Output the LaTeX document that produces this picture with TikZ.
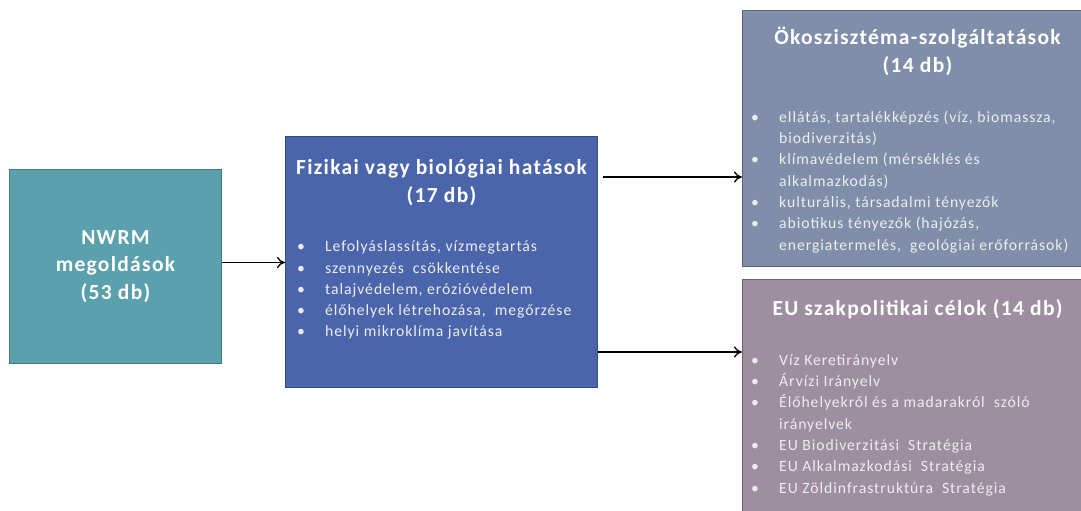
\documentclass[tikz,border=0pt]{standalone}
\usepackage{fontspec}
\setmainfont{Carlito}[LetterSpace=6]
\usetikzlibrary{arrows.meta,positioning}
\definecolor{nwrmc}{RGB}{91,160,173}
\definecolor{fizc}{RGB}{74,101,172}
\definecolor{okoc}{RGB}{128,143,169}
\definecolor{euc}{RGB}{157,143,160}
\newcommand\itm{\makebox[28pt][l]{\textbullet}}
\newcommand\cnt{\hspace*{28pt}}
\tikzset{
  box/.style={draw, line width=1pt, inner sep=0pt, anchor=north west},
  ttl/.style={text=white, align=center, inner sep=0pt,
    font=\fontsize{21.5}{28}\selectfont\bfseries},
  lst/.style={text=white!93!black, align=left, inner sep=0pt,
    font=\fontsize{15.7}{21.3}\selectfont},
  arr/.style={-{To[length=8pt,width=11pt]}, line width=1.3pt},
}
\begin{document}
\begin{tikzpicture}[x=1pt,y=-1pt]
    \useasboundingbox (0,0) rectangle (1081,511);
    % boxes
    \node[box, fill=nwrmc, draw=nwrmc!75!black, minimum width=212pt, minimum height=194pt,
      text=white, align=center, font=\fontsize{21.5}{27.5}\selectfont\bfseries]
      (nwrm) at (9,169) {NWRM\\megoldások\\(53 db)};
    \node[box, fill=fizc, draw=fizc!75!black, minimum width=312pt, minimum height=251pt]
      (fiz) at (285,136) {};
    \node[box, fill=okoc, draw=okoc!70!black, minimum width=350pt, minimum height=256pt]
      (oko) at (742,10) {};
    \node[box, fill=euc, draw=euc!70!black, minimum width=350pt, minimum height=240pt]
      (eu) at (742,279) {};
    % titles
    \node[ttl, below=20pt of fiz.north] (fiz-t)
      {\rule{0pt}{18pt}Fizikai vagy biológiai hatások\\(17 db)};
    \node[ttl, below=16pt of oko.north] (oko-t)
      {\rule{0pt}{18pt}Ökoszisztéma-szolgáltatások\\(14 db)};
    \node[ttl, below=18pt of eu.north] (eu-t)
      {\rule{0pt}{18pt}EU szakpolitikai célok (14 db)};
    % lists
    \node[lst, below right=100.5pt and 12pt of fiz.north west] (fiz-l)
      {\rule{0pt}{15pt}\itm Lefolyáslassítás, vízmegtartás\\
       \itm szennyezés\ \ csökkentése\\
       \itm talajvédelem, erózióvédelem\\
       \itm élőhelyek létrehozása,\ \ megőrzése\\
       \itm helyi mikroklíma javítása};
    \node[lst, below right=97pt and 9pt of oko.north west] (oko-l)
      {\rule{0pt}{15pt}\itm ellátás, tartalékképzés (víz, biomassza,\\
       \cnt biodiverzitás)\\
       \itm klímavédelem (mérséklés és\\
       \cnt alkalmazkodás)\\
       \itm kulturális, társadalmi tényezők\\
       \itm abiotikus tényezők (hajózás,\\
       \cnt energiatermelés,\ \ geológiai erőforrások)};
    \node[lst, below right=71pt and 9pt of eu.north west] (eu-l)
      {\rule{0pt}{15pt}\itm Víz Keretirányelv\\
       \itm Árvízi Irányelv\\
       \itm Élőhelyekről és a madarakról\ \ szóló\\
       \cnt irányelvek\\
       \itm EU Biodiverzitási\ \ Stratégia\\
       \itm EU Alkalmazkodási\ \ Stratégia\\
       \itm EU Zöldinfrastruktúra\ \ Stratégia};
    % arrows
    \coordinate (a1) at ([yshift=4pt]nwrm.east);
    \coordinate (a2) at ([xshift=5pt,yshift=-41pt]fiz.north east);
    \coordinate (a3) at ([yshift=-216pt]fiz.north east);
    \draw[arr] (a1) -- (a1 -| fiz.west);
    \draw[arr] (a2) -- (a2 -| oko.west);
    \draw[arr] (a3) -- (a3 -| eu.west);
\end{tikzpicture}
\end{document}
